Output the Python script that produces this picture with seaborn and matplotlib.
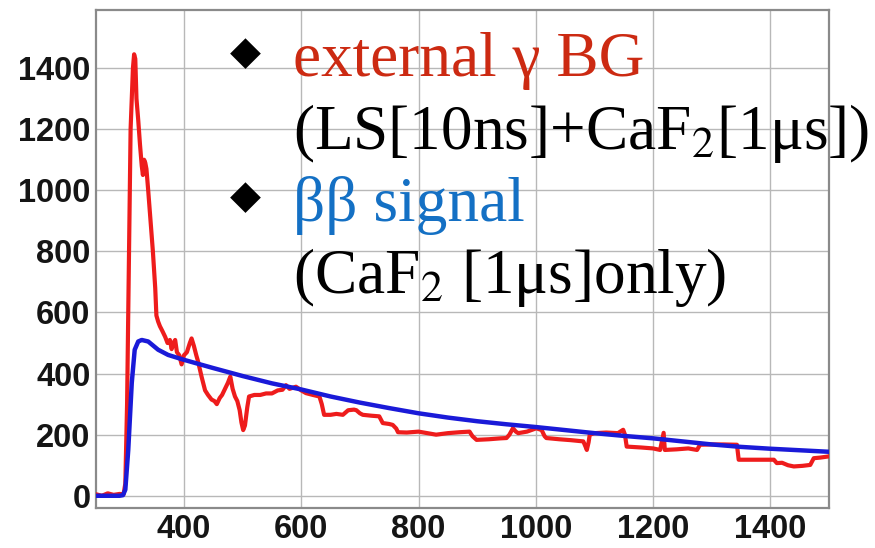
import numpy as np
import pandas as pd
import matplotlib
matplotlib.use("Agg")
import matplotlib.pyplot as plt
from matplotlib.ticker import MultipleLocator
import seaborn as sns

# External gamma background waveform (LS + CaF2)
bg_t = [250, 260, 270, 280, 290, 297, 300, 303, 305, 307, 309, 311, 313, 315, 317,
        319, 322, 325, 328, 330, 332, 334, 336, 339, 343, 347, 351, 353, 356, 359,
        363, 368, 372, 376, 379, 382, 385, 388, 392, 396, 400, 405, 410, 413, 417,
        421, 424, 430, 436, 441, 447, 452, 456, 461, 465, 470, 475, 479, 483, 487,
        491, 495, 498, 501, 504, 508, 511, 520, 530, 540, 550, 560, 568, 574, 580,
        591, 600, 608, 620, 631, 635, 639, 650, 660, 671, 680, 690, 694, 700, 705,
        720, 733, 739, 750, 756, 762, 765, 780, 800, 815, 830, 850, 870, 887, 892,
        899, 920, 940, 950, 955, 961, 966, 970, 985, 1001, 1010, 1015, 1018, 1040,
        1060, 1081, 1085, 1087, 1090, 1092, 1100, 1120, 1140, 1149, 1152, 1155,
        1180, 1200, 1212, 1218, 1220, 1240, 1260, 1275, 1280, 1300, 1320, 1343,
        1346, 1370, 1390, 1406, 1411, 1420, 1430, 1440, 1455, 1468, 1474, 1485,
        1500]
bg_counts = [5, 0, 8, 3, 6, 5, 40, 300, 600, 900, 1200, 1300, 1400, 1445, 1430,
             1300, 1230, 1150, 1080, 1050, 1100, 1090, 1070, 1000, 900, 800, 680,
             590, 570, 555, 540, 520, 500, 510, 480, 500, 510, 470, 460, 430, 460,
             470, 500, 515, 490, 460, 440, 390, 345, 330, 315, 310, 300, 320, 330,
             350, 370, 390, 350, 325, 310, 280, 240, 215, 230, 290, 325, 330, 330,
             335, 335, 345, 347, 362, 350, 357, 345, 336, 330, 325, 300, 265, 265,
             268, 265, 280, 282, 280, 270, 265, 262, 260, 238, 235, 232, 220, 208,
             207, 210, 205, 200, 205, 208, 210, 195, 183, 185, 188, 189, 200, 221,
             210, 205, 210, 221, 215, 195, 189, 185, 182, 178, 160, 150, 175, 200,
             205, 207, 205, 216, 200, 161, 158, 155, 150, 206, 150, 152, 155, 150,
             167, 168, 168, 167, 118, 118, 118, 118, 107, 108, 100, 96, 98, 101,
             123, 125, 129]

# Double-beta signal waveform (CaF2 only)
sig_t = [250, 270, 290, 296, 300, 305, 311, 316, 322, 328, 339, 356, 373, 400,
         450, 500, 550, 600, 650, 700, 750, 800, 850, 900, 950, 1000, 1050, 1100,
         1150, 1200, 1250, 1300, 1350, 1400, 1450, 1500]
sig_counts = [0, 0, 0, 2, 20, 150, 370, 478, 505, 510, 505, 478, 461, 445, 418,
              392, 368, 348, 325, 305, 287, 270, 256, 244, 234, 225, 215, 205, 196,
              188, 178, 168, 160, 154, 149, 144]

x_major = [400, 600, 800, 1000, 1200, 1400]
y_major = [0, 200, 400, 600, 800, 1000, 1200, 1400]

sns.set_style("white")
plt.rcParams["font.family"] = ["Liberation Sans", "DejaVu Sans"]
plt.rcParams["mathtext.fontset"] = "stix"

W, H = 875, 548
fig = plt.figure(figsize=(W / 100, H / 100), dpi=100)
ax = fig.add_axes([96 / W, 1 - 508 / H, (829 - 96) / W, (508 - 10) / H])

bg_df = pd.DataFrame({"t": bg_t, "counts": bg_counts})
sig_df = pd.DataFrame({"t": sig_t, "counts": sig_counts})

sns.lineplot(data=bg_df, x="t", y="counts", ax=ax, color="#ee1c1c", lw=3.0,
             sort=False, estimator=None, zorder=3)
sns.lineplot(data=sig_df, x="t", y="counts", ax=ax, color="#1a1ad8", lw=3.2,
             sort=False, estimator=None, zorder=4)

ax.set_xlim(250, 1500)
ax.set_ylim(-40, 1590)
ax.set_xlabel("")
ax.set_ylabel("")

ax.set_xticks(x_major)
ax.set_yticks(y_major)
ax.xaxis.set_minor_locator(MultipleLocator(50))
ax.yaxis.set_minor_locator(MultipleLocator(50))
ax.set_xticklabels([str(v) for v in x_major])
ax.set_yticklabels([str(v) for v in y_major])

ax.grid(True, which="major", color="#b8b8b8", lw=1.0, zorder=0)
ax.tick_params(axis="both", which="both", direction="in", colors="#555555",
               labelcolor="#151515", labelsize=23.5)
ax.tick_params(axis="y", which="major", length=16, width=1.2, pad=4)
ax.tick_params(axis="y", which="minor", length=8, width=1.0)
ax.tick_params(axis="x", which="major", length=9, width=1.2, pad=4)
ax.tick_params(axis="x", which="minor", length=5, width=1.0)
for lab in ax.get_xticklabels() + ax.get_yticklabels():
    lab.set_fontweight("bold")
for sp in ax.spines.values():
    sp.set_color("#8a8a8a")
    sp.set_linewidth(1.6)


def fx(px):
    return px / W


def fy(py):
    return 1 - py / H


serif = ["Liberation Serif", "DejaVu Serif"]
tsize = 45.5
fig.text(fx(245), fy(53), "◆", family=["DejaVu Sans"], fontsize=29,
         ha="center", va="center", color="black")
fig.text(fx(245), fy(197), "◆", family=["DejaVu Sans"], fontsize=29,
         ha="center", va="center", color="black")
fig.text(fx(293), fy(76), "external γ BG", family=serif, fontsize=tsize,
         color="#cc2a12", va="baseline", ha="left")
fig.text(fx(293), fy(149), "(LS[10ns]+CaF$_2$[1μs])", family=serif,
         fontsize=tsize, color="black", va="baseline", ha="left")
fig.text(fx(293), fy(221), "ββ signal", family=serif, fontsize=tsize,
         color="#1470c4", va="baseline", ha="left")
fig.text(fx(293), fy(293), "(CaF$_2$ [1μs]only)", family=serif, fontsize=tsize,
         color="black", va="baseline", ha="left")

fig.savefig("out.png", dpi=100, facecolor="white")
